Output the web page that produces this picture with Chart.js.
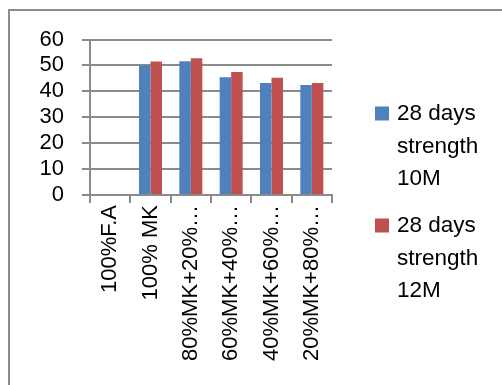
<!DOCTYPE html>
<html>
<head>
<meta charset="utf-8">
<script src="https://cdn.jsdelivr.net/npm/chart.js@4/dist/chart.umd.min.js"></script>
<style>
  html, body { margin: 0; padding: 0; background: #ffffff; }
  #wrap { position: relative; width: 502px; height: 385px; }
</style>
</head>
<body>
<div id="wrap"><canvas id="c" width="502" height="385"></canvas></div>
<script>
// Mix categories (ellipsis where the axis cuts the name short)
const categories = ['100%F.A', '100% MK', '80%MK+20%…', '60%MK+40%…', '40%MK+60%…', '20%MK+80%…'];
// 28-day compressive strength for the two mixes
const strength10M = [0, 50.1, 51.6, 45.4, 43.2, 42.4];
const strength12M = [0, 51.5, 52.8, 47.5, 45.2, 43.2];
const seriesNames = ['28 days strength 10M', '28 days strength 12M'];
const yTicks = [0, 10, 20, 30, 40, 50, 60];

const FONT = 'Liberation Sans, Arial, sans-serif';
const GRID = '#8a8a8a';

// outer frame of the chart object
const framePlugin = {
  id: 'frame',
  beforeDraw(chart) {
    const ctx = chart.ctx;
    ctx.save();
    ctx.fillStyle = '#ffffff';
    ctx.fillRect(0, 0, chart.width, chart.height);
    ctx.strokeStyle = '#8c8c8c';
    ctx.lineWidth = 2;
    ctx.beginPath();
    ctx.moveTo(9, chart.height);
    ctx.lineTo(9, 10);
    ctx.lineTo(chart.width, 10);
    ctx.stroke();
    ctx.restore();
  }
};

// legend on the right with word-wrapped series names
const sideLegend = {
  id: 'sideLegend',
  afterDraw(chart) {
    const ctx = chart.ctx;
    ctx.save();
    ctx.font = '22.5px ' + FONT;
    ctx.textBaseline = 'alphabetic';
    ctx.textAlign = 'left';
    const boxX = 375, textX = 397, lineH = 32.5, maxW = 100;
    let baseline = 120;
    chart.data.datasets.forEach(ds => {
      const words = ds.label.split(' ');
      const lines = [];
      let cur = '';
      words.forEach(w => {
        const t = cur ? cur + ' ' + w : w;
        if (cur && ctx.measureText(t).width > maxW) { lines.push(cur); cur = w; }
        else cur = t;
      });
      if (cur) lines.push(cur);
      ctx.fillStyle = ds.backgroundColor;
      ctx.fillRect(boxX, baseline - 13.5, 14, 14);
      ctx.fillStyle = '#000000';
      lines.forEach((ln, i) => ctx.fillText(ln, textX, baseline + i * lineH));
      baseline += lines.length * lineH + 14.5;
    });
    ctx.restore();
  }
};

new Chart(document.getElementById('c'), {
  type: 'bar',
  data: {
    labels: categories,
    datasets: [
      { label: seriesNames[0], data: strength10M, backgroundColor: '#4F81BD',
        categoryPercentage: 0.57, barPercentage: 1.0 },
      { label: seriesNames[1], data: strength12M, backgroundColor: '#C0504D',
        categoryPercentage: 0.57, barPercentage: 1.0 }
    ]
  },
  options: {
    responsive: false,
    animation: false,
    devicePixelRatio: 1,
    layout: { padding: { left: 40, right: 170, top: 39.5, bottom: 0 } },
    plugins: { legend: { display: false }, tooltip: { enabled: false } },
    scales: {
      x: {
        afterFit(scale) { scale.height = 190; },
        grid: { display: true, drawOnChartArea: false, drawTicks: true, tickLength: 8,
                color: GRID, lineWidth: 2, offset: true },
        border: { display: true, color: GRID, width: 2 },
        ticks: { autoSkip: false, minRotation: 90, maxRotation: 90, padding: 2,
                 color: '#000000', font: { family: FONT, size: 22 } }
      },
      y: {
        min: yTicks[0], max: yTicks[yTicks.length - 1],
        afterFit(scale) { scale.width = 50; },
        afterBuildTicks(scale) { scale.ticks = yTicks.map(v => ({ value: v })); },
        grid: { color: GRID, lineWidth: 2, tickLength: 8, drawTicks: true },
        border: { display: true, color: GRID, width: 2 },
        ticks: { autoSkip: false, stepSize: 10, padding: 18, color: '#000000',
                 font: { family: FONT, size: 22 } }
      }
    }
  },
  plugins: [framePlugin, sideLegend]
});
</script>
</body>
</html>
